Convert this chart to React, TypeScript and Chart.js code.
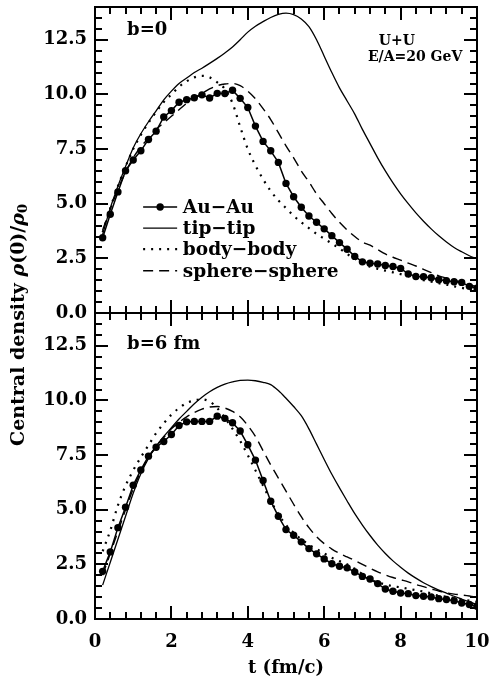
import React, { useEffect, useRef } from "react";
import { Chart, registerables } from "chart.js";

Chart.register(...registerables);

// ---------- data ----------
const tValues = [
  0.2, 0.4, 0.6, 0.8, 1.0, 1.2, 1.4, 1.6, 1.8, 2.0,
  2.2, 2.4, 2.6, 2.8, 3.0, 3.2, 3.4, 3.6, 3.8, 4.0,
  4.2, 4.4, 4.6, 4.8, 5.0, 5.2, 5.4, 5.6, 5.8, 6.0,
  6.2, 6.4, 6.6, 6.8, 7.0, 7.2, 7.4, 7.6, 7.8, 8.0,
  8.2, 8.4, 8.6, 8.8, 9.0, 9.2, 9.4, 9.6, 9.8, 10.0,
];

// b = 0 panel
const auAuTop = [
  3.44, 4.52, 5.54, 6.51, 7.0, 7.42, 7.94, 8.32, 8.97, 9.26,
  9.64, 9.76, 9.85, 9.98, 9.84, 10.05, 10.04, 10.19, 9.82, 9.4,
  8.55, 7.85, 7.42, 6.89, 5.93, 5.32, 4.84, 4.44, 4.15, 3.85,
  3.54, 3.22, 2.92, 2.59, 2.34, 2.28, 2.24, 2.17, 2.13, 2.04,
  1.79, 1.67, 1.66, 1.61, 1.52, 1.48, 1.43, 1.4, 1.22, 1.14,
];
const tipTipTop = [
  3.6, 4.8, 5.8, 6.7, 7.55, 8.2, 8.75, 9.25, 9.75, 10.15,
  10.5, 10.75, 11.0, 11.2, 11.42, 11.65, 11.9, 12.17, 12.5, 12.85,
  13.12, 13.33, 13.52, 13.66, 13.72, 13.65, 13.45, 13.1, 12.5, 11.75,
  11.0, 10.3, 9.7, 9.1, 8.4, 7.75, 7.1, 6.5, 5.95, 5.45,
  5.0, 4.58, 4.2, 3.85, 3.53, 3.25, 3.0, 2.8, 2.62, 2.48,
];
const bodyBodyTop = [
  3.7, 4.8, 5.8, 6.7, 7.5, 8.15, 8.7, 9.2, 9.65, 10.0,
  10.35, 10.6, 10.78, 10.85, 10.78, 10.55, 10.25, 9.6, 8.52, 7.5,
  6.75, 6.12, 5.58, 5.15, 4.8, 4.45, 4.15, 3.88, 3.62, 3.4,
  3.18, 2.95, 2.7, 2.48, 2.28, 2.12, 2.02, 1.94, 1.86, 1.78,
  1.68, 1.58, 1.5, 1.43, 1.36, 1.3, 1.22, 1.15, 1.08, 1.0,
];
const sphereTop = [
  3.8, 4.75, 5.65, 6.45, 7.1, 7.6, 8.0, 8.4, 8.7, 9.0,
  9.3, 9.6, 9.85, 10.05, 10.25, 10.4, 10.48, 10.5, 10.4, 10.15,
  9.8, 9.35, 8.85, 8.25, 7.65, 7.1, 6.5, 6.0, 5.45, 5.0,
  4.55, 4.15, 3.8, 3.5, 3.25, 3.1, 2.9, 2.7, 2.55, 2.42,
  2.28, 2.15, 2.0, 1.85, 1.7, 1.6, 1.5, 1.4, 1.3, 1.2,
];

// b = 6 fm panel
const auAuBot = [
  2.18, 3.07, 4.18, 5.11, 6.12, 6.82, 7.45, 7.86, 8.12, 8.44,
  8.85, 9.02, 9.04, 9.04, 9.04, 9.28, 9.18, 8.98, 8.6, 7.97,
  7.27, 6.34, 5.39, 4.7, 4.09, 3.83, 3.53, 3.22, 2.98, 2.75,
  2.53, 2.41, 2.34, 2.15, 1.95, 1.83, 1.62, 1.37, 1.27, 1.19,
  1.16, 1.07, 1.04, 1.01, 0.93, 0.89, 0.84, 0.73, 0.66, 0.58,
];
const tipTipBot = [
  1.55, 2.6, 3.65, 4.7, 5.75, 6.65, 7.35, 7.9, 8.35, 8.75,
  9.15, 9.5, 9.85, 10.15, 10.4, 10.6, 10.75, 10.85, 10.92, 10.93,
  10.9, 10.83, 10.72, 10.45, 10.1, 9.72, 9.3, 8.7, 8.0, 7.3,
  6.62, 6.0, 5.4, 4.82, 4.3, 3.82, 3.38, 3.0, 2.66, 2.37,
  2.1, 1.87, 1.66, 1.48, 1.32, 1.18, 1.04, 0.91, 0.78, 0.66,
];
const bodyBodyBot = [
  3.1, 4.05, 5.2, 6.1, 6.8, 7.4, 7.95, 8.5, 8.95, 9.35,
  9.65, 9.88, 10.0, 10.05, 9.95, 9.65, 9.2, 8.7, 8.15, 7.5,
  6.8, 6.1, 5.4, 4.8, 4.3, 3.95, 3.65, 3.4, 3.2, 3.0,
  2.8, 2.65, 2.5, 2.3, 2.05, 1.8, 1.68, 1.58, 1.5, 1.45,
  1.38, 1.32, 1.25, 1.17, 1.06, 1.02, 0.96, 0.9, 0.84, 0.78,
];
const sphereBot = [
  2.0, 3.0, 4.0, 5.0, 5.95, 6.75, 7.4, 7.9, 8.3, 8.7,
  9.0, 9.25, 9.45, 9.6, 9.7, 9.72, 9.65, 9.5, 9.25, 8.85,
  8.35, 7.7, 7.05, 6.45, 5.85, 5.25, 4.68, 4.18, 3.77, 3.45,
  3.2, 3.0, 2.84, 2.68, 2.5, 2.32, 2.16, 2.02, 1.9, 1.8,
  1.7, 1.58, 1.48, 1.38, 1.28, 1.2, 1.14, 1.1, 1.05, 1.0,
];

const xTickValues = [0, 2, 4, 6, 8, 10];
const yTickValues = [0, 2.5, 5, 7.5, 10, 12.5];
const xMinorTicks = [
  0, 0.4, 0.8, 1.2, 1.6, 2, 2.4, 2.8, 3.2, 3.6, 4, 4.4, 4.8,
  5.2, 5.6, 6, 6.4, 6.8, 7.2, 7.6, 8, 8.4, 8.8, 9.2, 9.6, 10,
];
const yMinorTicks = [
  0, 0.5, 1, 1.5, 2, 2.5, 3, 3.5, 4, 4.5, 5, 5.5, 6, 6.5, 7,
  7.5, 8, 8.5, 9, 9.5, 10, 10.5, 11, 11.5, 12, 12.5, 13, 13.5, 14,
];
const xMin = 0;
const xMax = 10;
const yMin = 0;
const yMax = 14;

const seriesNames = ["Au\u2212Au", "tip\u2212tip", "body\u2212body", "sphere\u2212sphere"];
const panelLabels = ["b=0", "b=6 fm"];
const systemLabels = ["U+U", "E/A=20 GeV"];
const xTitle = "t (fm/c)";

// ---------- styling ----------
const FONT = '"DejaVu Serif", serif';
const styles = [
  { borderDash: [] as number[], width: 1.5, points: true, tension: 0 },
  { borderDash: [] as number[], width: 1.3, points: false, tension: 0.4 },
  { borderDash: [2, 6], width: 2.2, points: false, tension: 0.4 },
  { borderDash: [10, 6], width: 1.4, points: false, tension: 0.4 },
];

function makeSet(values: number[], idx: number, axis: string) {
  const s = styles[idx];
  return {
    label: seriesNames[idx] + (axis === "yTop" ? "" : " "),
    data: tValues.map((t, i) => ({ x: t, y: values[i] })),
    yAxisID: axis,
    borderColor: "#000",
    backgroundColor: "#000",
    borderWidth: s.width,
    borderDash: s.borderDash,
    pointRadius: s.points ? 3.7 : 0,
    pointHoverRadius: 0,
    pointBorderWidth: 0,
    pointBackgroundColor: "#000",
    tension: s.tension,
    cubicInterpolationMode: s.points ? "default" : "monotone",
    fill: false,
  };
}

function isMajor(list: number[], v: number) {
  return list.some((m) => Math.abs(m - v) < 1e-6);
}

const decorPlugin = {
  id: "decor",
  afterDraw(chart: any) {
    const ctx = chart.ctx as CanvasRenderingContext2D;
    const xs = chart.scales.x;
    const yt = chart.scales.yTop;
    const yb = chart.scales.yBot;
    const area = chart.chartArea;
    ctx.save();
    ctx.setLineDash([]);
    ctx.globalAlpha = 1;
    ctx.strokeStyle = "#000000";
    ctx.fillStyle = "#000000";
    const TW = 2;
    [yt, yb].forEach((ys: any) => {
      const L = area.left;
      const R = area.right;
      const T = ys.top;
      const B = ys.bottom;
      ctx.lineWidth = 2;
      ctx.strokeRect(L, T, R - L, B - T);
      xMinorTicks.forEach((v) => {
        const len = isMajor(xTickValues, v) ? 13 : 7;
        const px = Math.round(xs.getPixelForValue(v));
        ctx.fillRect(px - 1, B - len, TW, len);
        ctx.fillRect(px - 1, T, TW, len);
      });
      yMinorTicks.forEach((v) => {
        const len = isMajor(yTickValues, v) ? 13 : 7;
        const py = Math.round(ys.getPixelForValue(v));
        ctx.fillRect(L, py - 1, len, TW);
        ctx.fillRect(R - len, py - 1, len, TW);
      });
    });

    // panel labels
    ctx.font = `bold 18px ${FONT}`;
    ctx.textAlign = "left";
    ctx.textBaseline = "middle";
    ctx.fillText(panelLabels[0], xs.getPixelForValue(0.84), yt.getPixelForValue(12.95));
    ctx.fillText(panelLabels[1], xs.getPixelForValue(0.84), yb.getPixelForValue(12.55));
    // system labels
    ctx.font = `bold 14px ${FONT}`;
    ctx.textAlign = "center";
    ctx.fillText(systemLabels[0], xs.getPixelForValue(7.9), yt.getPixelForValue(12.45));
    ctx.fillText(systemLabels[1], xs.getPixelForValue(8.38), yt.getPixelForValue(11.68));

    // legend
    const rows = [4.85, 3.88, 2.92, 1.93];
    const x0 = xs.getPixelForValue(1.26);
    const x1 = xs.getPixelForValue(2.15);
    const xt = xs.getPixelForValue(2.3);
    ctx.font = `bold 18.5px ${FONT}`;
    ctx.textAlign = "left";
    rows.forEach((v, i) => {
      const py = yt.getPixelForValue(v);
      const s = styles[i];
      ctx.lineWidth = s.width;
      ctx.setLineDash(s.borderDash);
      ctx.beginPath();
      ctx.moveTo(x0, py);
      ctx.lineTo(x1, py);
      ctx.stroke();
      ctx.setLineDash([]);
      if (s.points) {
        ctx.beginPath();
        ctx.arc((x0 + x1) / 2, py, 3.7, 0, Math.PI * 2);
        ctx.fill();
      }
      ctx.fillText(seriesNames[i], xt, py + 1);
    });

    // y title (rotated)
    const cy = (yt.top + yb.bottom) / 2 + 12;
    ctx.translate(19, cy);
    ctx.rotate(-Math.PI / 2);
    const parts: [string, string, number][] = [
      ["Central density ", `bold 19px ${FONT}`, 0],
      ["\u03c1", `italic bold 19px ${FONT}`, 0],
      ["(0)/", `bold 19px ${FONT}`, 0],
      ["\u03c1", `italic bold 19px ${FONT}`, 0],
      ["0", `bold 13px ${FONT}`, 5],
    ];
    let total = 0;
    parts.forEach(([t, f]) => {
      ctx.font = f;
      total += ctx.measureText(t).width;
    });
    let cx = -total / 2;
    ctx.textAlign = "left";
    parts.forEach(([t, f, dy]) => {
      ctx.font = f;
      ctx.fillText(t, cx, dy);
      cx += ctx.measureText(t).width;
    });
    ctx.restore();
  },
};

export default function App() {
  const ref = useRef<HTMLCanvasElement | null>(null);
  useEffect(() => {
    if (!ref.current) return;
    const yCommon = () => ({
      type: "linear" as const,
      position: "left" as const,
      stack: "panels",
      stackWeight: 1,
      min: yMin,
      max: yMax,
      offset: false,
      grid: { display: false, drawTicks: false },
      border: { display: false },
      afterBuildTicks: (s: any) => {
        s.ticks = yTickValues.map((v) => ({ value: v }));
      },
      afterFit: (s: any) => {
        s.width = 95;
        s.paddingTop = 0;
        s.paddingBottom = 0;
      },
      ticks: {
        color: "#000",
        padding: 8,
        font: { family: FONT, size: 18, weight: "bold" as const },
        callback: (v: any) => Number(v).toFixed(1),
      },
    });
    const chart = new Chart(ref.current, {
      type: "line",
      data: {
        datasets: [
          makeSet(auAuTop, 0, "yTop"),
          makeSet(tipTipTop, 1, "yTop"),
          makeSet(bodyBodyTop, 2, "yTop"),
          makeSet(sphereTop, 3, "yTop"),
          makeSet(auAuBot, 0, "yBot"),
          makeSet(tipTipBot, 1, "yBot"),
          makeSet(bodyBodyBot, 2, "yBot"),
          makeSet(sphereBot, 3, "yBot"),
        ] as any,
      },
      options: {
        responsive: false,
        animation: false,
        events: [],
        layout: { padding: { top: 7, right: 12, left: 0, bottom: 0 } },
        plugins: {
          legend: { display: false },
          tooltip: { enabled: false },
        },
        scales: {
          x: {
            type: "linear",
            position: "bottom",
            min: xMin,
            max: xMax,
            grid: { display: false, drawTicks: false },
            border: { display: false },
            afterBuildTicks: (s: any) => {
              s.ticks = xTickValues.map((v) => ({ value: v }));
            },
            afterFit: (s: any) => {
              s.height = 62;
              s.paddingLeft = 0;
              s.paddingRight = 0;
            },
            ticks: {
              color: "#000",
              padding: 13,
              maxRotation: 0,
              font: { family: FONT, size: 18, weight: "bold" },
            },
            title: {
              display: true,
              text: xTitle,
              color: "#000",
              padding: { top: 0, bottom: 2 },
              font: { family: FONT, size: 18, weight: "bold" },
            },
          },
          yBot: yCommon(),
          yTop: yCommon(),
        } as any,
      },
      plugins: [decorPlugin],
    });
    return () => chart.destroy();
  }, []);
  return (
    <div style={{ position: "absolute", left: 0, top: 0, width: 489, height: 681, background: "#fff" }}>
      <canvas ref={ref} width={489} height={681} style={{ width: 489, height: 681, display: "block" }} />
    </div>
  );
}
